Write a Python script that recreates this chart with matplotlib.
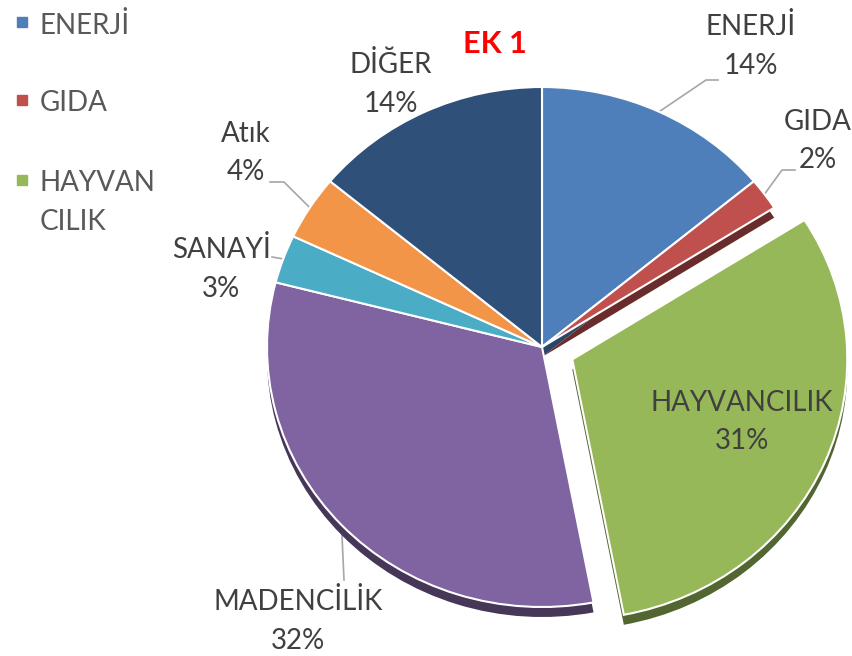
import numpy as np
import matplotlib
matplotlib.use("Agg")
import matplotlib.pyplot as plt
from matplotlib.colors import to_rgb
from matplotlib.patches import Rectangle

# data
categories = ["ENERJİ", "GIDA", "HAYVANCILIK", "MADENCİLİK", "SANAYİ", "Atık", "DİĞER"]
shares = [14, 2, 31, 32, 3, 4, 14]
colors = ["#4F7FBA", "#BF504D", "#97B858", "#7F64A1", "#4BACC6", "#F39548", "#2F5078"]
explode = [0, 0, 0.12, 0, 0, 0, 0]
legend_items = ["ENERJİ", "GIDA", "HAYVAN\nCILIK"]

plt.rcParams['font.family'] = ['Lato', 'DejaVu Sans']

W, H = 853, 656
fig = plt.figure(figsize=(W / 100, H / 100), dpi=100)
ax = fig.add_axes([0, 0, 1, 1])

# pie centre and radii in pixels (slightly flattened, like the 3D view)
cx, cy, rx, ry = 542, 347, 275, 260


def px(x, y):
    return (x - cx) / rx, (cy - y) / ry


depth = 10 / ry
side = [tuple(c * 0.55 for c in to_rgb(col)) for col in colors]
ax.pie(shares, colors=side, startangle=90, counterclock=False, explode=explode,
       center=(0, -depth), wedgeprops=dict(edgecolor=(1, 1, 1, 0), linewidth=0))
ax.pie(shares, colors=colors, startangle=90, counterclock=False, explode=explode,
       wedgeprops=dict(edgecolor='white', linewidth=1.5))

ax.set_aspect('auto')
ax.set_xlim(-cx / rx, (W - cx) / rx)
ax.set_ylim(-(H - cy) / ry, cy / ry)
ax.axis('off')

# label positions (pixel centres) and leader elbows
label_pos = {
    "ENERJİ": (751, 46), "GIDA": (818, 141), "HAYVANCILIK": (742, 422),
    "MADENCİLİK": (298, 621), "SANAYİ": (221, 269), "Atık": (246, 153),
    "DİĞER": (391, 84),
}
leaders = {
    "ENERJİ": [(706, 80), (718, 80)],
    "GIDA": [(782, 170), (795, 170)],
    "MADENCİLİK": [(344, 580)],
    "SANAYİ": [(272, 257)],
    "Atık": [(284, 182), (270, 182)],
}

cum = np.cumsum([0] + shares[:-1])
for name, val, c0 in zip(categories, shares, cum):
    ang = np.deg2rad(90 - (c0 + val / 2) * 3.6)
    if name in leaders:
        pts = [(np.cos(ang), np.sin(ang))] + [px(*p) for p in leaders[name]]
        xs, ys = zip(*pts)
        ax.plot(xs, ys, color='#A6A6A6', lw=1.2, zorder=0)
    lx, ly = px(*label_pos[name])
    ax.text(lx, ly, f"{name}\n{val}%", ha='center', va='center', fontsize=20,
            color='#404040', linespacing=1.58)

# title
fig.text(495 / W, 1 - 44 / H, "EK 1", color='red', fontsize=22, fontweight='bold',
         ha='center', va='center')

# legend
for i, (lab, col) in enumerate(zip(legend_items, colors)):
    y = [22, 100, 180][i]
    fig.add_artist(Rectangle((17 / W, 1 - (y + 5) / H), 10 / W, 10 / H,
                             transform=fig.transFigure, color=col))
    fig.text(40 / W, 1 - (y - 10) / H, lab, fontsize=20, color='#595959',
             ha='left', va='top', linespacing=1.6)

fig.savefig("out.png", dpi=100)
